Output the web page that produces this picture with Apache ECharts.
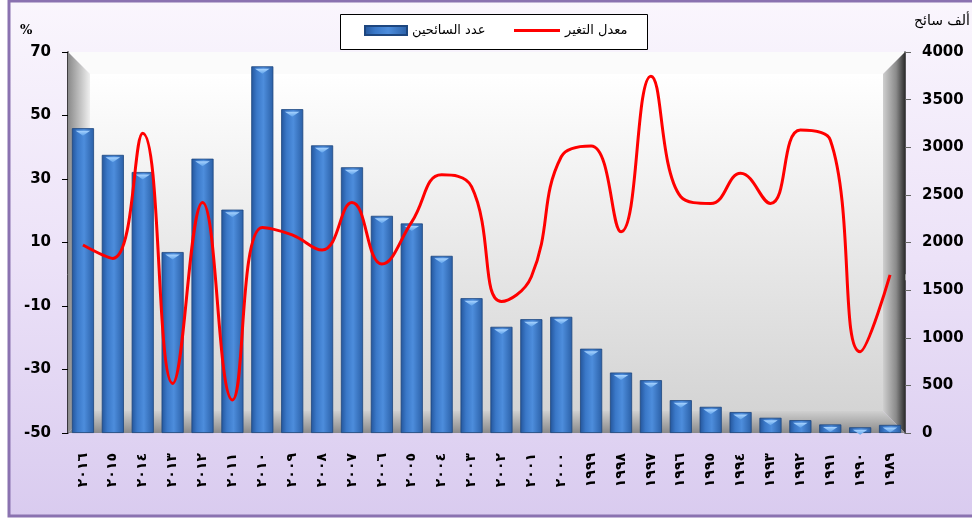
<!DOCTYPE html>
<html>
<head>
<meta charset="utf-8">
<script src="https://cdn.jsdelivr.net/npm/echarts@6/dist/echarts.min.js"></script>
<style>
html,body{margin:0;padding:0;background:#fff;}
#c{width:972px;height:520px;}
</style>
</head>
<body>
<div id="c"></div>
<script>
var years = ['٢٠١٦','٢٠١٥','٢٠١٤','٢٠١٣','٢٠١٢','٢٠١١','٢٠١٠','٢٠٠٩','٢٠٠٨','٢٠٠٧','٢٠٠٦','٢٠٠٥','٢٠٠٤','٢٠٠٣','٢٠٠٢','٢٠٠١','٢٠٠٠','١٩٩٩','١٩٩٨','١٩٩٧','١٩٩٦','١٩٩٥','١٩٩٤','١٩٩٣','١٩٩٢','١٩٩١','١٩٩٠','١٩٨٩'];
var tourists = [3200,2920,2740,1900,2880,2345,3850,3400,3020,2790,2280,2200,1860,1415,1115,1195,1220,885,635,555,345,275,220,160,135,90,60,85];
var changeRate = [9.2,5,44.4,-34.4,22.6,-39.6,14.7,12.4,7.6,22.6,3.2,16.5,31.3,27.6,-8.6,-0.8,37,40.4,13.4,62.4,24.4,22.3,31.8,22.3,45.4,42.3,-24.4,-0.2];
var seriesNames = ['عدد السائحين','معدل التغير'];
var leftTitle = '%';
var rightTitle = 'ألف سائح';

var chart = echarts.init(document.getElementById('c'));
var L = 68, R = 905, T = 52, B = 433, b = 22;
var legendText = {fontFamily: 'DejaVu Sans', fontSize: 13, color: '#000'};
var option = {
  animation: false,
  backgroundColor: 'transparent',
  graphic: [
    {type:'rect', z:-10, silent:true, shape:{x:9,y:1,width:975,height:515},
     style:{fill:new echarts.graphic.LinearGradient(0,0,0,1,[{offset:0,color:'#faf6fd'},{offset:0.5,color:'#ece2f8'},{offset:1,color:'#d9cbef'}]), stroke:'#8a72b0', lineWidth:3}},
    {type:'polygon', z:1, silent:true, shape:{points:[[L,T],[R,T],[R-b,T+b],[L+b,T+b]]}, style:{fill:'#fbfbfb'}},
    {type:'polygon', z:1, silent:true, shape:{points:[[L,T],[L+b,T+b],[L+b,B-b],[L,B]]},
     style:{fill:new echarts.graphic.LinearGradient(0,0,1,0,[{offset:0,color:'#8a8a8a'},{offset:1,color:'#efefef'}])}},
    {type:'polygon', z:1, silent:true, shape:{points:[[R,T],[R,B],[R-b,B-b],[R-b,T+b]]},
     style:{fill:new echarts.graphic.LinearGradient(0,0,1,0,[{offset:0,color:'#cfcfcf'},{offset:0.6,color:'#8a8a8a'},{offset:1,color:'#2e2e2e'}])}},
    {type:'polygon', z:1, silent:true, shape:{points:[[L,B],[L+b,B-b],[R-b,B-b],[R,B]]},
     style:{fill:new echarts.graphic.LinearGradient(0,0,0,1,[{offset:0,color:'#d0d0d0'},{offset:1,color:'#8a8a8a'}])}},
    {type:'rect', z:1, silent:true, shape:{x:L+b,y:T+b,width:R-L-2*b,height:B-T-2*b},
     style:{fill:new echarts.graphic.LinearGradient(0,0,0,1,[{offset:0,color:'#ffffff'},{offset:1,color:'#d4d4d4'}])}},
    {type:'rect', z:-5, silent:true, shape:{x:340.5,y:14.5,width:307,height:35},
     style:{fill:'#ffffff', stroke:'#000', lineWidth:1}},
    {type:'text', z:5, left:20, top:24, style:{text:leftTitle, font:'bold 13px "DejaVu Serif"', fill:'#000'}},
    {type:'text', z:5, right:2, top:14, style:{text:rightTitle, font:'14px "DejaVu Sans"', fill:'#000'}}
  ],
  legend: [
    {
      data: [{name: seriesNames[0], icon: 'rect'}],
      left: 364, top: 24, padding: 0,
      itemWidth: 42, itemHeight: 9, itemGap: 10,
      textStyle: legendText
    },
    {
      data: [{name: seriesNames[1], icon: 'rect'}],
      left: 514, top: 24, padding: 0,
      itemWidth: 46, itemHeight: 3, itemGap: 10,
      textStyle: legendText
    }
  ],
  grid: {left: L, right: 972 - R, top: T, bottom: 520 - B, containLabel: false},
  xAxis: {
    type: 'category',
    data: years,
    axisLine: {show: true, lineStyle: {color: '#808080', width: 1}},
    axisTick: {show: true, length: 6, lineStyle: {color: '#a0a0a0'}},
    axisLabel: {rotate: 90, margin: 20, color: '#000', fontFamily: 'DejaVu Sans', fontWeight: 'bold', fontSize: 14, interval: 0}
  },
  yAxis: [
    {
      type: 'value', position: 'left', min: -50, max: 70, interval: 20,
      splitLine: {show: false},
      axisLine: {show: true, lineStyle: {color: '#000', width: 1.5}},
      axisTick: {show: true, length: 6, lineStyle: {color: '#000'}},
      axisLabel: {margin: 17, color: '#000', fontFamily: 'DejaVu Sans', fontWeight: 'bold', fontSize: 15}
    },
    {
      type: 'value', position: 'right', min: 0, max: 4000, interval: 500,
      splitLine: {show: false},
      axisLine: {show: true, lineStyle: {color: '#222', width: 1.5}},
      axisTick: {show: true, length: 6, lineStyle: {color: '#666'}},
      axisLabel: {margin: 17, color: '#000', fontFamily: 'DejaVu Sans', fontWeight: 'bold', fontSize: 15,
                  formatter: function (v) { return String(v); }}
    }
  ],
  series: [
    {
      name: seriesNames[0], type: 'bar', yAxisIndex: 1, data: tourists,
      barWidth: '74%', z: 3,
      itemStyle: {
        color: new echarts.graphic.LinearGradient(0,0,1,0,[
          {offset:0,color:'#24559a'},{offset:0.25,color:'#3a78c8'},{offset:0.55,color:'#4d8ddc'},{offset:1,color:'#2a5fa6'}]),
        borderColor: '#1d467f', borderWidth: 0.8
      }
    },
    {
      name: seriesNames[0] + ' ', type: 'pictorialBar', yAxisIndex: 1, data: tourists,
      symbol: 'path://M0,0 L20,0 L10,6 Z', symbolSize: ['70%', 5], symbolPosition: 'end',
      symbolOffset: [0, 2.5], z: 4, silent: true, legendHoverLink: false,
      itemStyle: {color: new echarts.graphic.LinearGradient(0,0,0,1,[{offset:0,color:'#a9d4ff'},{offset:1,color:'#5fa2ea'}])}
    },
    {
      name: seriesNames[1], type: 'line', yAxisIndex: 0, data: changeRate,
      smooth: 0.45, symbol: 'none', z: 5,
      lineStyle: {color: '#ff0000', width: 3},
      itemStyle: {color: '#ff0000'}
    }
  ]
};
chart.setOption(option);
</script>
</body>
</html>
